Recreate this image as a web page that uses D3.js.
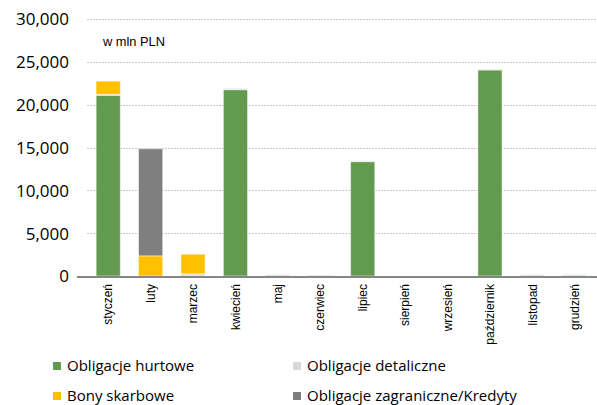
<!DOCTYPE html>
<html>
<head>
<meta charset="utf-8">
<script src="https://cdn.jsdelivr.net/npm/d3@7/dist/d3.min.js"></script>
<style>
  html, body { margin: 0; padding: 0; background: #fff; }
  svg { display: block; }
</style>
</head>
<body>
<svg id="chart" width="597" height="405"></svg>
<script>
// Monthly issuance, in PLN million
const months = ["styczeń", "luty", "marzec", "kwiecień", "maj", "czerwiec",
                "lipiec", "sierpień", "wrzesień", "październik", "listopad", "grudzień"];
const hurtowe      = [21100, 0, 0, 21750, 0, 0, 13350, 0, 0, 24050, 0, 0];
const detaliczne   = [100, 0, 250, 150, 150, 120, 100, 0, 0, 100, 150, 150];
const bony         = [1550, 2350, 2300, 0, 0, 0, 0, 0, 0, 0, 0, 0];
const zagraniczne  = [0, 12500, 0, 0, 0, 0, 0, 0, 0, 0, 0, 0];
const yTicks       = [0, 5000, 10000, 15000, 20000, 25000, 30000];

const seriesNames  = ["Obligacje hurtowe", "Obligacje detaliczne", "Bony skarbowe", "Obligacje zagraniczne/Kredyty"];
const seriesValues = [hurtowe, detaliczne, bony, zagraniczne];
const colors       = ["#629a4f", "#d9d9d9", "#ffc000", "#7f7f7f"];

const rows = months.map((m, i) => {
  const r = { month: m };
  seriesNames.forEach((s, k) => r[s] = seriesValues[k][i]);
  return r;
});

const svg = d3.select("#chart");
const numFont = "'Open Sans', sans-serif";
const lblFont = "'Liberation Sans', Arial, sans-serif";

const x = d3.scaleBand().domain(months).range([87, 596]).paddingInner(0.43).paddingOuter(0.215);
const y = d3.scaleLinear().domain([0, 30000]).range([276, 19]);

// gridlines
svg.append("g").selectAll("line").data(yTicks.filter(t => t > 0)).join("line")
  .attr("x1", 87).attr("x2", 596)
  .attr("y1", d => Math.round(y(d)) + 0.5).attr("y2", d => Math.round(y(d)) + 0.5)
  .attr("stroke", "#c8c8c8").attr("stroke-dasharray", "2,1").attr("stroke-width", 1);

// y axis labels
const yAxis = d3.axisLeft(y).tickValues(yTicks).tickSize(0).tickPadding(0)
  .tickFormat(d3.format(","));
const gy = svg.append("g").attr("transform", "translate(69,0)").call(yAxis);
gy.select(".domain").remove();
gy.selectAll("text").attr("font-family", numFont).attr("font-size", 17).attr("fill", "#000")
  .attr("dy", "0.35em");

// stacked bars
const stack = d3.stack().keys(seriesNames)(rows);
svg.append("g").selectAll("g").data(stack).join("g")
  .attr("fill", (d, i) => colors[i])
  .selectAll("rect").data(d => d.filter(p => p[1] - p[0] > 0)).join("rect")
  .attr("x", d => x(d.data.month))
  .attr("width", x.bandwidth())
  .attr("y", d => y(d[1]))
  .attr("height", d => y(d[0]) - y(d[1]))
  .attr("stroke", "#ffffff").attr("stroke-opacity", 0.5).attr("stroke-width", 1);

// category axis
const xAxis = d3.axisBottom(x).tickSize(0).tickPadding(0);
const gx = svg.append("g").attr("transform", "translate(0,277)").call(xAxis);
gx.select(".domain").remove();
svg.append("line").attr("x1", 77).attr("x2", 597).attr("y1", 277).attr("y2", 277)
  .attr("stroke", "#868686").attr("stroke-width", 2);
gx.selectAll("text")
  .attr("font-family", lblFont).attr("font-size", 12).attr("fill", "#000")
  .attr("text-anchor", "end")
  .attr("transform", "translate(0,7) rotate(-90)")
  .attr("x", 0).attr("y", 0).attr("dy", "0.35em");

// unit note
svg.append("text").attr("x", 103).attr("y", 46).text("w mln PLN")
  .attr("font-family", lblFont).attr("font-size", 12).attr("fill", "#000")
  .attr("textLength", 62).attr("lengthAdjust", "spacingAndGlyphs");

// legend
const legendPos = [[53, 366], [293, 366], [53, 396], [293, 396]];
const lg = svg.append("g").selectAll("g").data(seriesNames).join("g")
  .attr("transform", (d, i) => `translate(${legendPos[i][0]},${legendPos[i][1]})`);
lg.append("rect").attr("x", 0).attr("y", -4).attr("width", 8).attr("height", 8)
  .attr("fill", (d, i) => colors[i]);
lg.append("text").attr("x", 14).attr("y", 0).attr("dy", "0.35em").text(d => d)
  .attr("font-family", numFont).attr("font-size", 15).attr("fill", "#000");
</script>
</body>
</html>
